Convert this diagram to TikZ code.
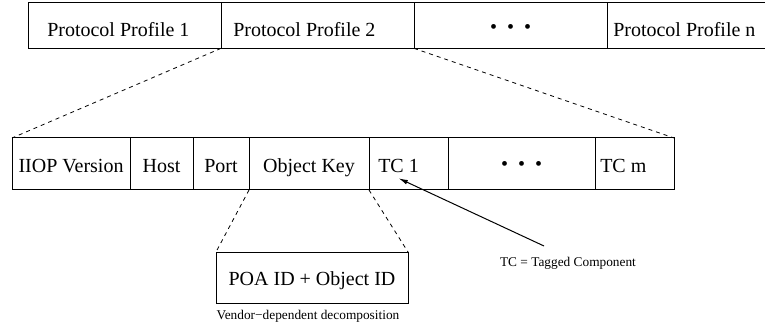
\documentclass[tikz,border=0pt]{standalone}
\usepackage{fontspec}
\setmainfont{Liberation Serif}
\usetikzlibrary{arrows.meta, positioning}

\begin{document}
\begin{tikzpicture}[
  x=0.75pt, y=-0.75pt,
  cell/.style={
    rectangle, draw, line width=0.75pt,
    inner sep=0pt, outer sep=0pt
  },
  toprow/.style={cell, minimum height=34pt},
  midrow/.style={cell, minimum height=39pt},
  field/.style={
    inner sep=0pt, font=\fontsize{15}{18}\selectfont,
    text height=10pt, text depth=4pt
  },
  toptext/.style={field, yshift=-5.5pt},
  midtext/.style={field, yshift=-3.5pt},
  note/.style={inner sep=0pt, font=\fontsize{10}{12}\selectfont},
  split/.style={dash pattern=on 3pt off 3pt, line width=0.6pt},
  arrow/.style={-{Latex[length=7pt, width=3.5pt]}, line width=0.75pt}
]
\useasboundingbox (0,0) rectangle (765,328);

% Top row: protocol profiles
\node[toprow, minimum width=144.75pt, anchor=north west] (pp1) at (28,3) {};
\node[toprow, minimum width=144.75pt, right=0pt of pp1] (pp2) {};
\node[toprow, minimum width=144.75pt, right=0pt of pp2] (ppdots) {};
\node[toprow, minimum width=122pt, right=0pt of ppdots] (ppn) {};

\node[toptext, right=14.25pt of pp1.west] (pp1txt) {Protocol Profile 1};
\node[toptext, right=9pt of pp2.west] (pp2txt) {Protocol Profile 2};
\node[field, yshift=-3pt] (ppdotstxt) at (ppdots)
      {\textbullet\hspace{0.5em}\textbullet\hspace{0.5em}\textbullet};
\node[toptext, right=4.5pt of ppn.west] (ppntxt) {Protocol Profile n};

% Middle row: IIOP profile body
\node[midrow, minimum width=88.5pt, anchor=north west] (iiop) at (12,138) {};
\node[midrow, minimum width=47.25pt, right=0pt of iiop] (host) {};
\node[midrow, minimum width=42pt, right=0pt of host] (port) {};
\node[midrow, minimum width=90pt, right=0pt of port] (objkey) {};
\node[midrow, minimum width=59.25pt, right=0pt of objkey] (tc1) {};
\node[midrow, minimum width=110.25pt, right=0pt of tc1] (tcdots) {};
\node[midrow, minimum width=59.25pt, right=0pt of tcdots] (tcm) {};

\node[midtext] (iioptxt) at (iiop) {IIOP Version};
\node[midtext] (hosttxt) at (host) {Host};
\node[midtext] (porttxt) at (port) {Port};
\node[midtext] (objkeytxt) at (objkey) {Object Key};
\node[midtext, right=6.75pt of tc1.west] (tc1txt) {TC 1};
\node[field, yshift=-2.2pt] (tcdotstxt) at (tcdots)
      {\textbullet\hspace{0.5em}\textbullet\hspace{0.5em}\textbullet};
\node[midtext, right=3.75pt of tcm.west] (tcmtxt) {TC m};

% Object key decomposition
\node[cell, minimum width=144pt, minimum height=38.25pt, anchor=north west]
      (poa) at (216,252) {};
\node[field, yshift=-2.8pt] (poatxt) at (poa) {POA ID + Object ID};
\node[note, below=5.5pt of poa, xshift=-3pt] (vendor)
      {Vendor−dependent decomposition};

% Expansion lines
\draw[split] (pp2.south west) -- (iiop.north west);
\draw[split] (pp2.south east) -- (tcm.north east);
\draw[split] (objkey.south west) -- (poa.north west);
\draw[split] (objkey.south east) -- (poa.north east);

% Tagged component note
\node[note] (tcnote) at (568,263) {TC = Tagged Component};
\coordinate (tail) at (544,246);
\draw[arrow] (tail) -- (tc1txt.south);

\end{tikzpicture}
\end{document}
